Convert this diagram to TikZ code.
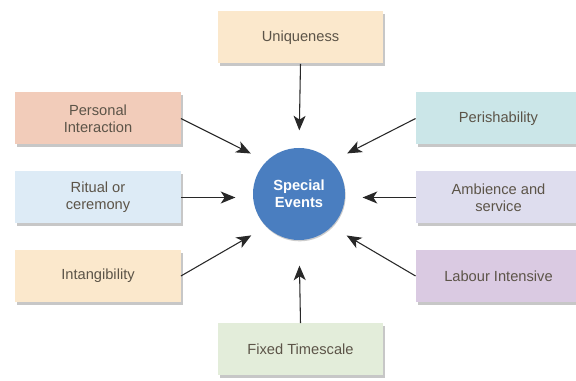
\documentclass[tikz,border=0pt]{standalone}
\usepackage{fontspec}
\setmainfont{Liberation Sans}
\usetikzlibrary{arrows.meta,shadows,positioning,calc}
\definecolor{evblue}{RGB}{74,126,192}
\definecolor{evtext}{RGB}{92,84,72}
\definecolor{evline}{RGB}{40,40,40}
\definecolor{peach}{RGB}{251,232,204}
\definecolor{salmon}{RGB}{242,204,186}
\definecolor{skyblue}{RGB}{221,235,246}
\definecolor{teal}{RGB}{203,230,232}
\definecolor{lavender}{RGB}{222,221,238}
\definecolor{lilac}{RGB}{218,202,226}
\definecolor{sage}{RGB}{227,237,218}

\tikzset{
  factor/.style={draw=none,minimum width=124pt,minimum height=39pt,align=center,
    text=evtext,font=\fontsize{11}{13}\selectfont,
    drop shadow={shadow xshift=1.5pt,shadow yshift=-2pt,opacity=0.22,fill=black}},
  arr/.style={draw=evline,line width=0.8pt,-{Stealth[length=11pt,width=9pt,inset=3pt]},shorten >=13pt}
}

\begin{document}
\begin{tikzpicture}[x=0.75pt,y=-0.75pt]
\clip (0,0) rectangle (576,381);
\fill[white] (0,0) rectangle (576,381);
\node[circle,fill=evblue,minimum size=69pt,text=white,align=center,
  font=\bfseries\fontsize{11}{13}\selectfont,
  drop shadow={shadow xshift=0.5pt,shadow yshift=-1pt,opacity=0.2,fill=black}] (ev) at (299,194) {Special\\Events};
\node[factor,fill=peach] (uni) at (300.5,37.5) {Uniqueness};
\node[factor,fill=salmon] (pers) at (98,118.5) {Personal\\Interaction};
\node[factor,fill=skyblue] (rit) at (98,197.5) {Ritual or\\ceremony};
\node[factor,fill=peach] (intg) at (98,276) {Intangibility};
\node[factor,fill=teal] (peri) at (498.5,118.5) {Perishability};
\node[factor,fill=lavender] (amb) at (498.5,197.5) {Ambience and\\service};
\node[factor,fill=lilac] (lab) at (498.5,276) {Labour Intensive};
\node[factor,fill=sage] (fix) at (300.5,349.5) {Fixed Timescale};
% arrows into the centre
\draw[arr] (uni.south) -- (ev.north);
\draw[arr] (pers.east) -- (ev.north west);
\draw[arr] (peri.west) -- (ev.north east);
\draw[arr] (rit.east) -- (rit.east -| ev.west);
\draw[arr] (amb.west) -- (amb.west -| ev.east);
\draw[arr] (intg.east) -- (ev.south west);
\draw[arr] (lab.west) -- (ev.south east);
\draw[arr,shorten >=19pt] (fix.north) -- (ev.south);
\end{tikzpicture}
\end{document}
